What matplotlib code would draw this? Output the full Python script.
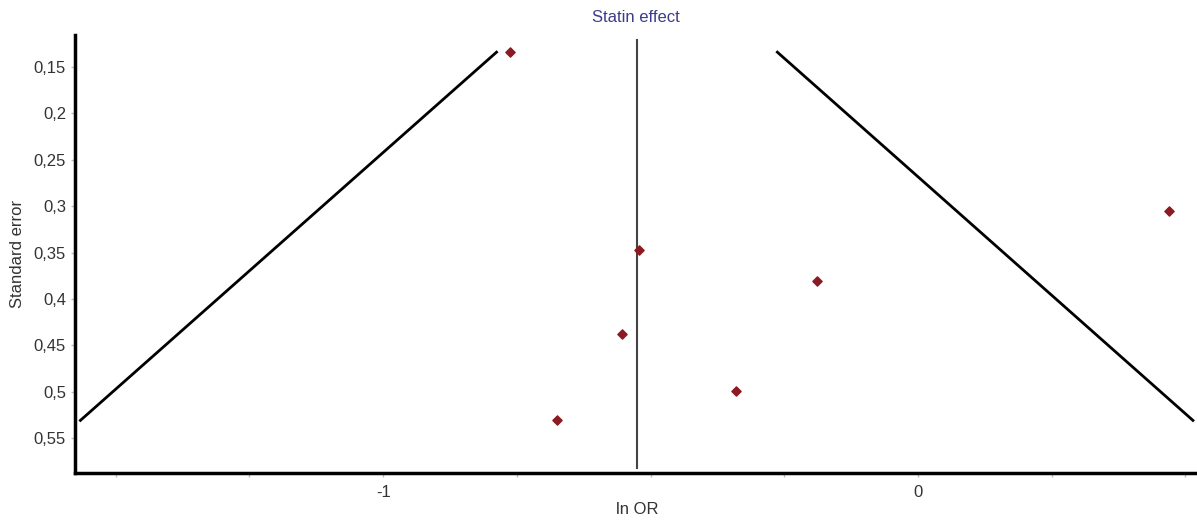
import matplotlib
matplotlib.use("Agg")
import matplotlib.pyplot as plt
from matplotlib.ticker import FixedLocator, FuncFormatter

plt.rcParams['font.family'] = ['Liberation Sans', 'DejaVu Sans']

# Study estimates (ln OR) and standard errors
ln_or = [-0.763, -0.521, 0.469, -0.189, -0.553, -0.340, -0.675]
std_err = [0.134, 0.347, 0.305, 0.381, 0.438, 0.499, 0.531]

# Pooled effect and funnel limits
pooled = -0.525
funnel_se = [0.134, 0.531]
funnel_left = [-0.788, -1.566]
funnel_right = [-0.263, 0.514]

fig = plt.figure(figsize=(11.97, 5.2), dpi=100)
ax = fig.add_axes([0.0627, 0.0904, 0.9357, 0.8423])

ax.plot(funnel_left, funnel_se, color='black', lw=2)
ax.plot(funnel_right, funnel_se, color='black', lw=2)
ax.plot([pooled, pooled], [0.121, 0.582], color='#444444', lw=1.5)
ax.scatter(ln_or, std_err, marker='D', s=22, color='#8b1a22', zorder=3)

ax.set_xlim(-1.576, 0.518)
ax.set_ylim(0.5877, 0.1155)

ax.xaxis.set_major_locator(FixedLocator([-1, 0]))
ax.xaxis.set_major_formatter(FuncFormatter(lambda v, p: '%g' % v))
ax.xaxis.set_minor_locator(FixedLocator([-1.5, -1.25, -0.75, -0.5, -0.25, 0.25, 0.5]))
ax.yaxis.set_major_locator(FixedLocator([0.15, 0.2, 0.25, 0.3, 0.35, 0.4, 0.45, 0.5, 0.55]))
ax.yaxis.set_major_formatter(FuncFormatter(lambda v, p: ('%g' % v).replace('.', ',')))

for s in ['top', 'right']:
    ax.spines[s].set_visible(False)
for s in ['left', 'bottom']:
    ax.spines[s].set_linewidth(2.5)

ax.tick_params(which='both', length=3, width=1, color='#bbbbbb', labelsize=12,
               labelcolor='#333333')
ax.tick_params(axis='x', pad=6)

ax.set_xlabel('ln OR', fontsize=12, color='#333333')
ax.xaxis.set_label_coords(0.502, -0.067)
ax.set_ylabel('Standard error', fontsize=12, color='#333333', labelpad=6)
fig.text(0.531, 0.967, 'Statin effect', ha='center', va='center', fontsize=12,
         color='#3c3c8c')

fig.savefig('out.png', dpi=100)
